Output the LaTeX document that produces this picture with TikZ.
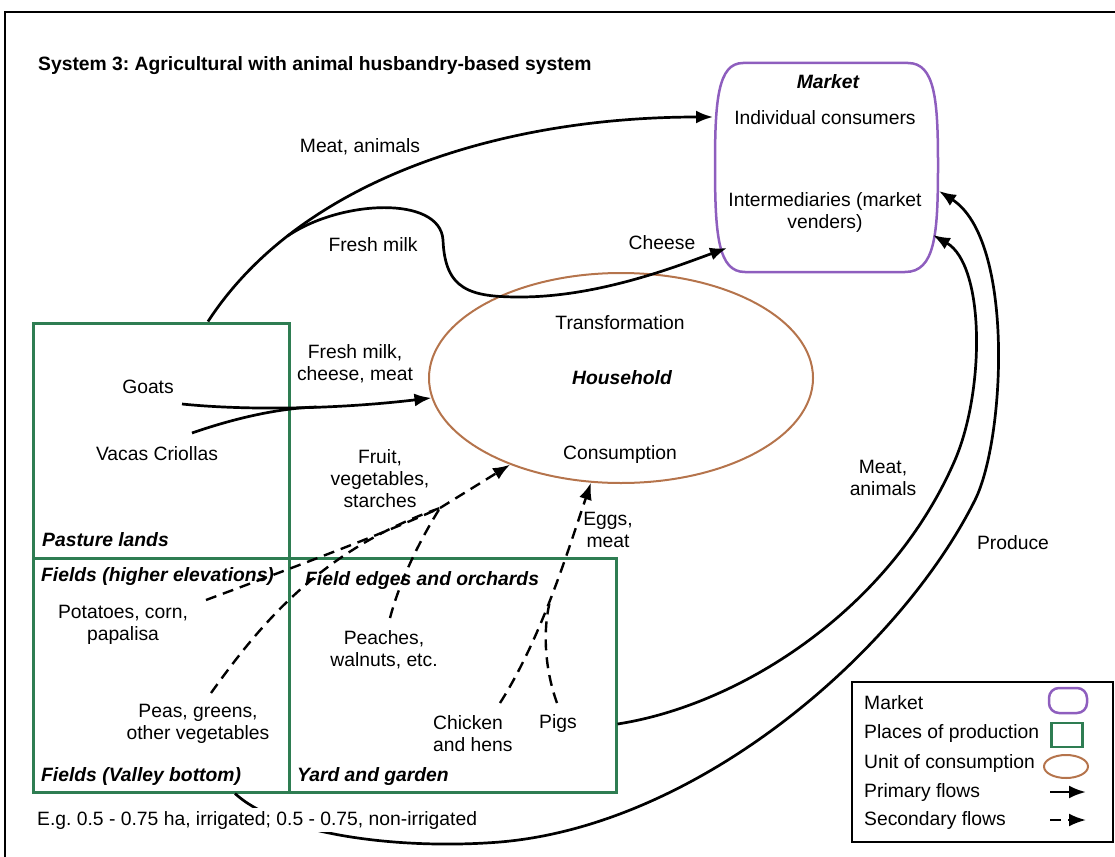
\documentclass[tikz,border=0pt]{standalone}
\usepackage{fontspec}
\setmainfont{Liberation Sans}
\usetikzlibrary{arrows.meta,shapes.geometric}
\definecolor{mpurple}{RGB}{142,94,190}
\definecolor{pgreen}{RGB}{46,125,82}
\definecolor{hbrown}{RGB}{181,116,76}
\newcommand\fsz{\fontsize{19.3}{22}\selectfont}
\frenchspacing
\begin{document}
\begin{tikzpicture}[x=1pt,y=-1pt,
  txt/.style={font=\fsz, align=center, inner sep=0pt},
  lbl/.style={font={\fsz\bfseries\itshape}, inner sep=0pt, anchor=west},
  legtxt/.style={font=\fsz, inner sep=0pt, anchor=west},
  prim/.style={line width=2.7pt, -{Latex[length=17pt,width=13pt]}},
  sec/.style={line width=2.4pt, dash pattern=on 11pt off 7pt, -{Latex[length=17pt,width=13pt]}},
  plainflow/.style={line width=2.7pt},
  secplain/.style={line width=2.4pt, dash pattern=on 11pt off 7pt},
  prodbox/.style={draw=pgreen, line width=3pt, inner sep=0pt},
  mktline/.style={draw=mpurple, line width=2.5pt},
]
\useasboundingbox (0,0) rectangle (1115,856);
% frame
\draw[line width=2.5pt] (5,860) -- (5,12) -- (1120,12);

% title
\node[font={\fsz\bfseries}, anchor=west, inner sep=0pt] (title) at (38,66) {System 3: Agricultural with animal husbandry-based system};

% market
\node[minimum width=223pt, minimum height=209pt, inner sep=0pt] (market) at (826.5,167.5) {};
\draw[mktline] (743,63) -- (908,63) .. controls (935,63) and (938,100) .. (938,165) .. controls (938,235) and (935,272) .. (905,272) -- (745,272) .. controls (718,272) and (715,235) .. (715,165) .. controls (715,100) and (718,63) .. (743,63) -- cycle;
\node[lbl, anchor=center] (mkttitle) at (828,82) {Market};
\node[txt] (indiv) at (825,118) {Individual consumers};
\node[txt] (interm) at (825,213) {Intermediaries (market\\venders)};
\coordinate (mkA) at (713,117);
\coordinate (mkB) at (727,248);
\coordinate (mkC) at (939,191);
\coordinate (mkD) at (933,235);

% household
\node[ellipse, draw=hbrown, line width=2pt, minimum width=384pt, minimum height=210pt, inner sep=0pt] (house) at (621,378) {};
\node[txt] (transf) at (620,323) {Transformation};
\node[lbl, anchor=center] (houselbl) at (622,378) {Household};
\node[txt] (consum) at (620,455) {Consumption};

% production boxes
\node[prodbox, minimum width=256pt, minimum height=235pt] (pasture) at (161,440.5) {};
\node[prodbox, minimum width=256pt, minimum height=234pt] (fields) at (161,675) {};
\node[prodbox, minimum width=327pt, minimum height=234pt] (yard) at (452.5,675) {};

\node[lbl] (pastlbl) at (42,540) {Pasture lands};
\node[lbl] (fhighlbl) at (41,577) {Fields (higher elevations)};
\node[lbl] (fedgelbl) at (305,581) {Field edges and orchards};
\node[lbl] (fvalleylbl) at (41,776) {Fields (Valley bottom)};
\node[lbl] (yardlbl) at (297,776) {Yard and garden};

\node[txt] (goats) at (148,387) {Goats};
\node[txt] (vacas) at (157,454) {Vacas Criollas};
\node[txt] (potat) at (123,625) {Potatoes, corn,\\papalisa};
\node[txt] (peach) at (384,650) {Peaches,\\walnuts, etc.};
\node[txt] (peas) at (198,724) {Peas, greens,\\other vegetables};
\node[txt, align=left, anchor=west] (chick) at (433,734) {Chicken\\and hens};
\node[txt] (pigs) at (558,723) {Pigs};

% flow labels
\node[txt] (lmeat1) at (360,147) {Meat, animals};
\node[txt] (lmilk) at (373,245) {Fresh milk};
\node[txt] (lcheese) at (662,243) {Cheese};
\node[txt] (lmilkcm) at (355,364) {Fresh milk,\\cheese, meat};
\node[txt] (lfruit) at (380,479) {Fruit,\\vegetables,\\starches};
\node[txt] (leggs) at (608,530) {Eggs,\\meat};
\node[txt] (lmeat2) at (883,478) {Meat,\\animals};
\node[txt] (lprod) at (1013,543) {Produce};

% primary flows
\draw[prim] ([xshift=47pt]pasture.north) .. controls (300,180) and (500,117) .. (mkA) coordinate[pos=0.23] (milkbr);
\draw[prim] (milkbr) .. controls (340,200) and (440,195) .. (443,240) .. controls (445,290) and (470,297) .. (520,297) .. controls (600,297) and (680,265) .. (mkB);

\coordinate (goatsout) at (182,404);
\coordinate (vacasout) at (192,433);
\draw[prim] (goatsout) .. controls (240,410) and (330,410) .. (house.186) coordinate[pos=0.6] (goatjoin);
\draw[plainflow] (vacasout) .. controls (235,418) and (280,408) .. (goatjoin);

\draw[prim] ([yshift=-49pt]yard.east) .. controls (740,705) and (890,610) .. (955,460) .. controls (985,390) and (985,265) .. (mkD);
\draw[prim] ([xshift=74pt]fields.south) .. controls (280,835) and (400,850) .. (500,842) .. controls (700,825) and (900,650) .. (975,500) .. controls (1005,440) and (1015,240) .. (mkC);

% secondary flows
\coordinate (fruitjoin) at (440,508);
\coordinate (potout) at (206,600);
\coordinate (peasout) at (211,693);
\coordinate (peachout) at (390,618);
\draw[sec] (fruitjoin) -- (house.218);
\draw[secplain] (potout) .. controls (300,565) and (380,535) .. (fruitjoin);
\draw[secplain] (peasout) .. controls (260,625) and (320,550) .. (fruitjoin);
\draw[secplain] (peachout) .. controls (400,580) and (420,540) .. (fruitjoin);

\coordinate (chickout) at (500,703);
\coordinate (pigout) at (557,703);
\draw[sec] (chickout) .. controls (540,640) and (565,560) .. (house.254) coordinate[pos=0.5] (eggjoin);
\draw[secplain] (pigout) .. controls (545,670) and (542,630) .. (eggjoin);

% note (covers the produce curve)
\node[font=\fsz, anchor=west, fill=white, inner sep=3pt] (note) at (34,820) {E.g. 0.5 - 0.75 ha, irrigated; 0.5 - 0.75, non-irrigated};

% legend
\node[draw, line width=1.3pt, minimum width=261pt, minimum height=160pt, inner sep=0pt] (legend) at (982.5,762) {};
\node[legtxt] (lgm) at (864,703) {Market};
\node[legtxt] (lgp) at (864,733) {Places of production};
\node[legtxt] (lgu) at (864,763) {Unit of consumption};
\node[legtxt] (lgf1) at (864,792) {Primary flows};
\node[legtxt] (lgf2) at (864,820) {Secondary flows};
\node[draw=mpurple, line width=2.5pt, rounded corners=10pt, minimum width=38pt, minimum height=25pt, inner sep=0pt] (legmk) at (1068,700.5) {};
\node[draw=pgreen, line width=2.5pt, minimum width=31pt, minimum height=24pt, inner sep=0pt] (legpp) at (1067,735) {};
\node[ellipse, draw=hbrown, line width=2pt, minimum width=44pt, minimum height=23pt, inner sep=0pt] (leguc) at (1066,766.5) {};
\coordinate (lp1) at (1050,792);
\coordinate (lp2) at (1086,792);
\coordinate (ls1) at (1050,820);
\coordinate (ls2) at (1086,820);
\draw[prim] (lp1) -- (lp2);
\draw[sec] (ls1) -- (ls2);
\end{tikzpicture}
\end{document}
